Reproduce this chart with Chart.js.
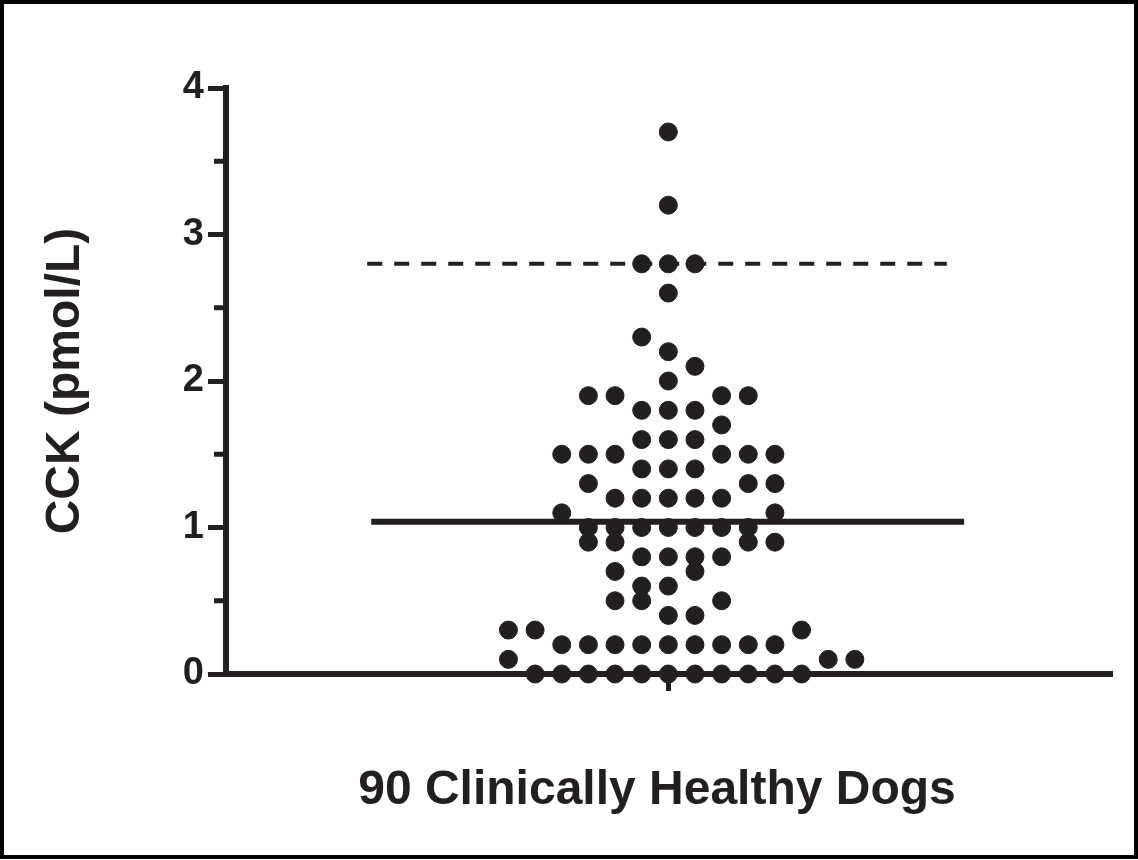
<!DOCTYPE html>
<html>
<head>
<meta charset="utf-8">
<script src="https://cdn.jsdelivr.net/npm/chart.js@4.4.1/dist/chart.umd.min.js"></script>
<style>
  body { margin: 0; background: #fff; }
</style>
</head>
<body>
<canvas id="cckChart" width="1138" height="860"></canvas>
<script>
// CCK values, one row per value; columns = horizontal slot of each dot in the row
const rowValues = [0, 0.1, 0.2, 0.3, 0.4, 0.5, 0.6, 0.7, 0.8, 0.9, 1.0, 1.1, 1.2, 1.3,
  1.4, 1.5, 1.6, 1.7, 1.8, 1.9, 2.0, 2.1, 2.2, 2.3, 2.6, 2.8, 3.2, 3.7]
const rowColumns = [
  [-5, -4, -3, -2, -1, 0, 1, 2, 3, 4, 5],
  [-6, 6, 7],
  [-4, -3, -2, -1, 0, 1, 2, 3, 4],
  [-6, -5, 5],
  [0, 1],
  [-2, -1, 2],
  [-1, 0],
  [-2, 1],
  [-1, 0, 1, 2],
  [-3, -2, 3, 4],
  [-3, -2, -1, 0, 1, 2, 3],
  [-4, 4],
  [-2, -1, 0, 1, 2],
  [-3, 3, 4],
  [-1, 0, 1],
  [-4, -3, -2, 2, 3, 4],
  [-1, 0, 1],
  [2],
  [-1, 0, 1],
  [-3, -2, 2, 3],
  [0],
  [1],
  [0],
  [-1],
  [0],
  [-1, 0, 1],
  [0],
  [0]
]
const medianValue = 1.04
const medianSpan = [-11.15, 11.1]
const upperLimit = 2.8
const upperSpan = [-11.3, 10.45]
const yTicks = [0, 1, 2, 3, 4]
const yMinorTicks = [0.5, 1.5, 2.5, 3.5]
const xTitle = '90 Clinically Healthy Dogs'

const ink = '#231f20'
const fontFamily = '"Liberation Sans", Arial, sans-serif'

// flatten rows into points
const dots = []
rowValues.forEach((v, i) => {
  rowColumns[i].forEach(col => dots.push({ x: col, y: v }))
})

const framePlugin = {
  id: 'frameAndMinorTicks',
  afterDraw(chart) {
    const ctx = chart.ctx
    const y = chart.scales.y
    const left = chart.chartArea.left
    ctx.save()
    ctx.strokeStyle = ink
    ctx.lineWidth = 5
    yMinorTicks.forEach(v => {
      const py = y.getPixelForValue(v)
      ctx.beginPath()
      ctx.moveTo(left - 12, py)
      ctx.lineTo(left, py)
      ctx.stroke()
    })
    // x axis title (sits a bit left of the plot centre in the original)
    ctx.fillStyle = ink
    ctx.font = 'bold 48px ' + fontFamily
    ctx.textAlign = 'center'
    ctx.textBaseline = 'middle'
    ctx.fillText(xTitle, 657, 791)
    // outer frame
    ctx.strokeStyle = '#000'
    ctx.lineWidth = 4
    ctx.strokeRect(2, 2, chart.width - 4, chart.height - 5)
    ctx.restore()
  }
}

const config = {
  type: 'scatter',
  data: {
    datasets: [
      {
        data: dots,
        backgroundColor: ink,
        borderColor: ink,
        pointRadius: 9,
        pointHoverRadius: 9,
        clip: false
      },
      {
        type: 'line',
        data: [{ x: medianSpan[0], y: medianValue }, { x: medianSpan[1], y: medianValue }],
        borderColor: ink,
        borderWidth: 6,
        pointRadius: 0
      },
      {
        type: 'line',
        data: [{ x: upperSpan[0], y: upperLimit }, { x: upperSpan[1], y: upperLimit }],
        borderColor: ink,
        borderWidth: 4,
        borderDash: [15, 12],
        pointRadius: 0
      }
    ]
  },
  options: {
    responsive: false,
    animation: false,
    layout: { padding: { top: 88, right: 26, left: 0, bottom: 0 } },
    plugins: { legend: { display: false }, tooltip: { enabled: false } },
    scales: {
      x: {
        type: 'linear',
        min: -16.6,
        max: 16.65,
        afterBuildTicks: s => { s.ticks = [{ value: 0 }] },
        afterFit: s => { s.height = 186 },
        ticks: { display: false },
        grid: { drawOnChartArea: false, tickLength: 17, tickWidth: 5, tickColor: ink },
        border: { display: true, width: 6, color: ink }
      },
      y: {
        min: 0,
        max: 4,
        afterBuildTicks: s => { s.ticks = yTicks.map(v => ({ value: v })) },
        afterFit: s => { s.width = 226 },
        ticks: {
          color: ink,
          padding: 4,
          font: { family: fontFamily, size: 38, weight: 'bold' }
        },
        grid: { drawOnChartArea: false, tickLength: 18, tickWidth: 5, tickColor: ink },
        border: { display: true, width: 6, color: ink },
        title: {
          display: true,
          text: 'CCK (pmol/L)',
          color: ink,
          font: { family: fontFamily, size: 48, weight: 'bold' },
          padding: { top: 37, bottom: 0 }
        }
      }
    }
  },
  plugins: [framePlugin]
}

const cckChart = new Chart(document.getElementById('cckChart'), config)
</script>
</body>
</html>
